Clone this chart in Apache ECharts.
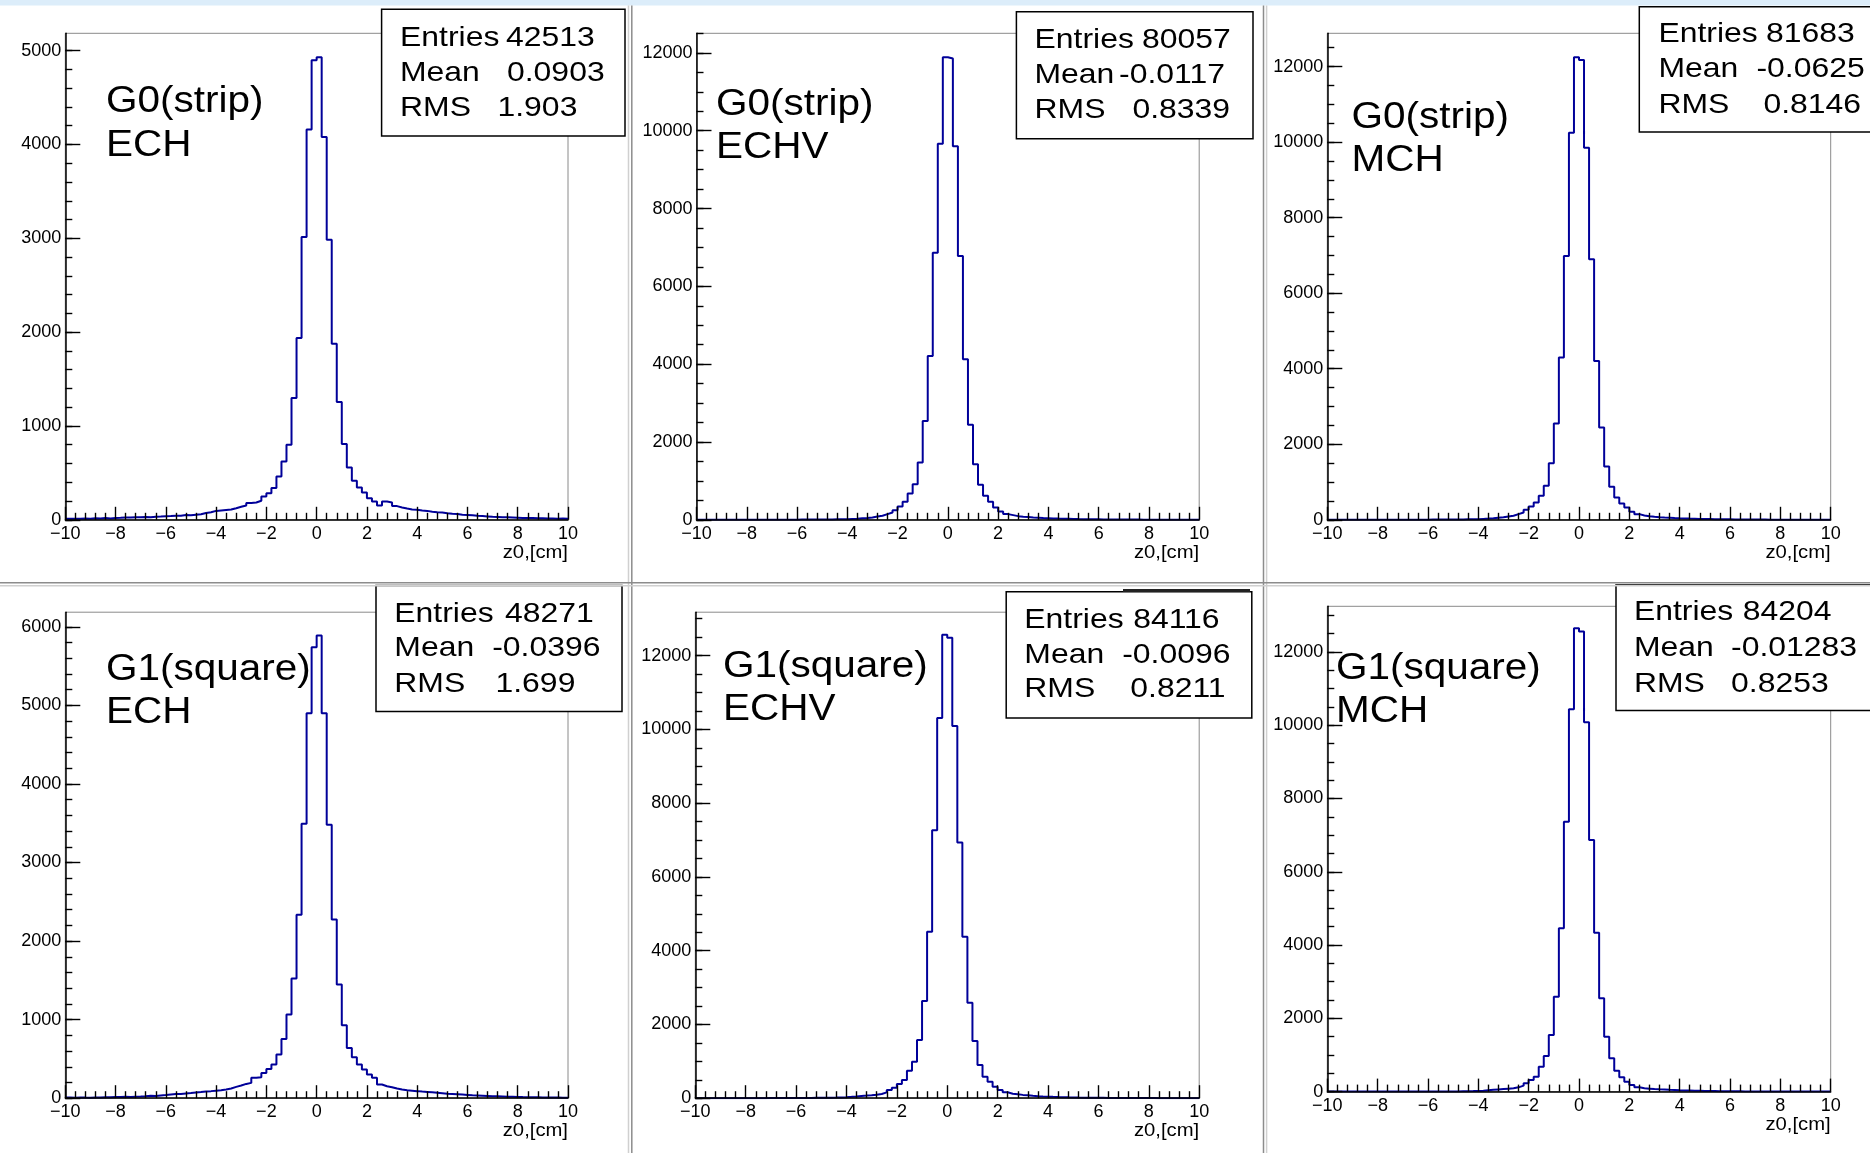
<!DOCTYPE html>
<html>
<head>
<meta charset="utf-8">
<script src="https://cdn.jsdelivr.net/npm/echarts@6/dist/echarts.min.js"></script>
<style>
html,body{margin:0;padding:0;background:#ffffff;}
#chart{width:1870px;height:1153px;}
</style>
</head>
<body>
<div id="chart"></div>
<script>
// ---------------- DATA ----------------
const xMin = -10, xMax = 10, binWidth = 0.2;
const xTickValues = [-10, -8, -6, -4, -2, 0, 2, 4, 6, 8, 10];

// bin contents, 100 bins of 0.2 cm from -10 to 10
const countsG0stripECH = [
  10,12,10,14,12,16,14,18,15,20,
  22,25,24,28,26,30,28,33,35,38,
  40,44,42,50,48,55,60,72,80,95,
  100,105,110,124,139,153,178,185,203,249,
  284,338,462,622,800,1298,1937,3015,4159,4899,
  4931,4081,2986,1877,1255,807,558,416,345,292,
  231,196,153,196,185,146,132,120,110,108,
  100,95,85,80,78,70,65,62,55,52,
  48,42,40,36,32,30,28,26,24,22,
  20,20,18,16,17,15,14,12,13,12
];
const countsG0stripECHV = [
  0,0,1,0,1,1,0,1,2,1,
  1,2,1,2,2,3,3,3,4,4,
  5,6,6,7,8,9,10,12,14,16,
  22,28,38,48,60,86,103,146,188,248,
  342,462,676,916,1472,2542,4212,6865,9664,11890,
  11856,9604,6780,4126,2440,1430,899,616,462,317,
  214,146,120,94,77,70,60,55,48,42,
  36,31,27,24,21,18,16,14,12,11,
  10,9,8,7,6,6,5,5,4,4,
  3,3,3,2,2,2,1,1,1,1
];
const countsG0stripMCH = [
  0,1,0,1,1,0,1,1,2,1,
  2,1,2,2,2,3,3,3,4,4,
  5,5,6,7,8,9,10,12,14,16,
  24,32,42,54,65,88,106,150,194,265,
  353,459,635,900,1499,2549,4295,6985,10249,12251,
  12172,9852,6897,4207,2443,1411,873,591,432,326,
  212,150,115,97,80,70,62,55,48,42,
  37,32,28,24,21,19,17,15,13,12,
  10,9,8,7,6,5,5,4,4,3,
  3,2,2,2,1,1,1,1,0,1
];
const countsG1squareECH = [
  8,6,10,8,7,10,9,12,11,14,
  16,18,15,20,22,25,30,28,35,40,
  48,52,55,60,65,72,78,85,90,96,
  102,110,123,144,161,182,195,259,267,322,
  373,428,555,755,1064,1522,2336,3494,4901,5741,
  5889,4901,3481,2273,1446,929,640,522,428,365,
  301,259,174,153,140,123,110,100,95,90,
  84,80,75,70,64,58,54,50,46,42,
  38,35,32,29,26,24,22,20,18,16,
  14,13,12,11,10,9,9,8,7,7
];
const countsG1squareECHV = [
  0,0,1,0,0,1,1,0,1,1,
  1,2,2,2,3,3,4,4,5,5,
  6,7,8,9,10,12,14,16,22,28,
  36,46,60,70,82,96,114,159,222,285,
  385,493,746,990,1577,2633,4511,7265,10309,12566,
  12484,10092,6931,4376,2588,1549,899,583,448,312,
  222,159,123,105,90,78,66,56,48,42,
  36,31,27,23,20,17,15,13,11,10,
  9,8,7,6,5,5,4,4,3,3,
  3,2,2,2,1,1,1,1,0,1
];
const countsG1squareMCH = [
  0,0,0,0,2,3,2,3,2,1,
  0,0,0,0,1,0,1,1,1,2,
  2,2,3,3,4,6,8,10,13,18,
  26,38,50,60,70,80,89,116,162,226,
  317,408,681,972,1545,2592,4457,7369,10436,12647,
  12556,10081,6868,4339,2546,1499,908,571,389,271,
  180,116,89,80,70,62,55,48,42,36,
  31,27,23,20,17,15,13,11,10,9,
  8,7,6,5,5,4,4,3,3,3,
  2,2,2,1,1,1,1,1,0,0
];

const panelCounts = [countsG0stripECH, countsG0stripECHV, countsG0stripMCH,
                     countsG1squareECH, countsG1squareECHV, countsG1squareMCH];
const panelGeometry = ["G0(strip)", "G0(strip)", "G0(strip)", "G1(square)", "G1(square)", "G1(square)"];
const panelChamber = ["ECH", "ECHV", "MCH", "ECH", "ECHV", "MCH"];
const statsEntries = ["42513", "80057", "81683", "48271", "84116", "84204"];
const statsMean = ["0.0903", "-0.0117", "-0.0625", "-0.0396", "-0.0096", "-0.01283"];
const statsRms = ["1.903", "0.8339", "0.8146", "1.699", "0.8211", "0.8253"];
const xAxisTitle = "z0,[cm]";

const yMaxValues = [5185, 12504, 12882, 6186, 13177, 13247];
const yMajorTicks = [
  [0, 1000, 2000, 3000, 4000, 5000],
  [0, 2000, 4000, 6000, 8000, 10000, 12000],
  [0, 2000, 4000, 6000, 8000, 10000, 12000],
  [0, 1000, 2000, 3000, 4000, 5000, 6000],
  [0, 2000, 4000, 6000, 8000, 10000, 12000],
  [0, 2000, 4000, 6000, 8000, 10000, 12000]
];
const yMinorStep = [200, 500, 500, 200, 500, 500];

// ---------------- LAYOUT ----------------
const grids = [
  {left: 65.3,   top: 33.3,  width: 502.7, height: 486.5},
  {left: 696.5,  top: 33.3,  width: 502.7, height: 486.5},
  {left: 1327.3, top: 33.3,  width: 503.4, height: 486.5},
  {left: 65.3,   top: 612.2, width: 502.7, height: 486.0},
  {left: 695.3,  top: 612.2, width: 503.9, height: 486.0},
  {left: 1327.3, top: 606.3, width: 503.4, height: 485.3}
];
const labelPos = [
  {x: 106, y1: 102, y2: 145.8},
  {x: 716, y1: 105.5, y2: 148},
  {x: 1351.5, y1: 118.4, y2: 161},
  {x: 106, y1: 670, y2: 713},
  {x: 723, y1: 667, y2: 710},
  {x: 1336, y1: 669, y2: 712.5}
];
const boxPos = [
  {x: 381.6, y: 9.3, w: 243.4, h: 126.7, lx: 400, rows: [38, 73, 108.2], vx: [506, 507, 497.5]},
  {x: 1016.4, y: 11.8, w: 236.6, h: 127, lx: 1034.5, rows: [39.8, 75, 110.5], vx: [1142, 1119, 1132.4]},
  {x: 1639.3, y: 6.7, w: 240, h: 125.3, lx: 1658.4, rows: [34.2, 69.4, 105.4], vx: [1766, 1756.4, 1763.4]},
  {x: 376, y: 585.5, w: 246, h: 126, lx: 394.3, rows: [613.8, 648.5, 684], vx: [505, 492.2, 495.5]},
  {x: 1006.2, y: 591.7, w: 245.6, h: 126.4, lx: 1024.3, rows: [620, 655, 689.7], vx: [1133.2, 1122.2, 1130.3]},
  {x: 1616, y: 585, w: 260, h: 125.5, lx: 1633.9, rows: [612, 648, 684], vx: [1742.8, 1731.1, 1731.1]}
];

const FONT = '"Liberation Sans", Arial, Helvetica, sans-serif';
const LABEL_STRETCH = 1.125;
const STATS_STRETCH = 1.14;
const histColor = '#000099';

const option = {
  animation: false,
  backgroundColor: '#ffffff',
  textStyle: {fontFamily: FONT},
  grid: [], xAxis: [], yAxis: [], series: [], graphic: []
};

const fmtMinus = v => (v < 0 ? '\u2212' + Math.abs(v) : String(v));

panelCounts.forEach((counts, i) => {
  const g = grids[i];
  option.grid.push({
    left: g.left, top: g.top, width: g.width, height: g.height,
    show: true, borderColor: '#8a8a8a', borderWidth: 1, backgroundColor: 'transparent',
    containLabel: false, outerBoundsMode: 'none'
  });
  option.xAxis.push({
    gridIndex: i, type: 'value', min: xMin, max: xMax, interval: 2, z: 3,
    axisLine: {show: true, onZero: false, lineStyle: {color: '#000', width: 1.5}},
    axisTick: {show: true, inside: true, length: 13, lineStyle: {color: '#000', width: 1.4}},
    minorTick: {show: true, splitNumber: 5, length: 7, lineStyle: {color: '#000', width: 1.4}},
    splitLine: {show: false}, minorSplitLine: {show: false},
    axisLabel: {color: '#000', fontSize: 18, fontFamily: FONT, margin: 5, formatter: fmtMinus,
                showMinLabel: true, showMaxLabel: true, hideOverlap: false}
  });
  const minorVals = [];
  for (let v = 0; v <= yMaxValues[i] + 1e-6; v += yMinorStep[i]) minorVals.push(v);
  option.yAxis.push({
    gridIndex: i, type: 'value', min: 0, max: yMaxValues[i], position: 'left', z: 3,
    axisLine: {show: true, onZero: false, lineStyle: {color: '#000', width: 1.5}},
    axisTick: {show: true, inside: true, length: 15, customValues: yMajorTicks[i],
               lineStyle: {color: '#000', width: 1.4}},
    axisLabel: {color: '#000', fontSize: 18, fontFamily: FONT, margin: 4,
                customValues: yMajorTicks[i], formatter: v => String(v)},
    splitLine: {show: false}
  });
  option.yAxis.push({
    gridIndex: i, type: 'value', min: 0, max: yMaxValues[i], position: 'left', z: 3,
    axisLine: {show: false, onZero: false},
    axisTick: {show: true, inside: true, length: 7, customValues: minorVals,
               lineStyle: {color: '#000', width: 1.4}},
    axisLabel: {show: false},
    splitLine: {show: false}
  });
  const data = counts.map((v, k) => [Math.round((xMin + k * binWidth) * 10) / 10, v]);
  data.push([xMax, counts[counts.length - 1]]);
  option.series.push({
    type: 'line', step: 'end', xAxisIndex: i, yAxisIndex: 2 * i, data: data,
    symbol: 'none', showSymbol: false, z: 1, clip: true,
    lineStyle: {color: histColor, width: 2}
  });

  // panel labels
  const lp = labelPos[i];
  [[panelGeometry[i], lp.y1], [panelChamber[i], lp.y2]].forEach(([t, y]) => {
    option.graphic.push({type: 'text', x: lp.x, y: y, scaleX: LABEL_STRETCH, z: 110,
      style: {text: t, fill: '#000', fontSize: 36, fontFamily: FONT, align: 'left', verticalAlign: 'middle'}});
  });
  // stats box
  const b = boxPos[i];
  option.graphic.push({type: 'rect', z: 100,
    shape: {x: b.x, y: b.y, width: b.w, height: b.h},
    style: {fill: '#ffffff', stroke: '#000', lineWidth: 1.5}});
  const labels = ['Entries', 'Mean', 'RMS'];
  const values = [statsEntries[i], statsMean[i], statsRms[i]];
  labels.forEach((lab, r) => {
    option.graphic.push({type: 'text', x: b.lx, y: b.rows[r], scaleX: STATS_STRETCH, z: 110,
      style: {text: lab, fill: '#000', fontSize: 28, fontFamily: FONT, align: 'left', verticalAlign: 'middle'}});
    option.graphic.push({type: 'text', x: b.vx[r], y: b.rows[r], scaleX: STATS_STRETCH, z: 110,
      style: {text: values[r], fill: '#000', fontSize: 28, fontFamily: FONT, align: 'left', verticalAlign: 'middle'}});
  });
  // axis title
  option.graphic.push({type: 'text', x: g.left + g.width, y: g.top + g.height + 33, scaleX: LABEL_STRETCH, z: 110,
    style: {text: xAxisTitle, fill: '#000', fontSize: 18, fontFamily: FONT, align: 'right', verticalAlign: 'middle'}});
});

// canvas decorations: top band and pad separators
option.graphic.push({type: 'rect', z: 120, shape: {x: 0, y: 0, width: 1870, height: 5.5}, style: {fill: '#dcedfa'}});
[[628.5, '#d0d0d0'], [631.8, '#8c8c8c'], [1263.5, '#8c8c8c'], [1266.6, '#d0d0d0']].forEach(([x, c]) => {
  option.graphic.push({type: 'line', z: 120, shape: {x1: x, y1: 5.5, x2: x, y2: 1153}, style: {stroke: c, lineWidth: 1.5}});
});
[[582.8, '#8c8c8c'], [585.8, '#d0d0d0']].forEach(([y, c]) => {
  option.graphic.push({type: 'line', z: 120, shape: {x1: 0, y1: y, x2: 1870, y2: y}, style: {stroke: c, lineWidth: 1.5}});
});
option.graphic.push({type: 'line', z: 105, shape: {x1: 1123, y1: 590.5, x2: 1250, y2: 590.5}, style: {stroke: '#222', lineWidth: 3}});

const chart = echarts.init(document.getElementById('chart'), null, {renderer: 'canvas', width: 1870, height: 1153});
chart.setOption(option);
</script>
</body>
</html>
